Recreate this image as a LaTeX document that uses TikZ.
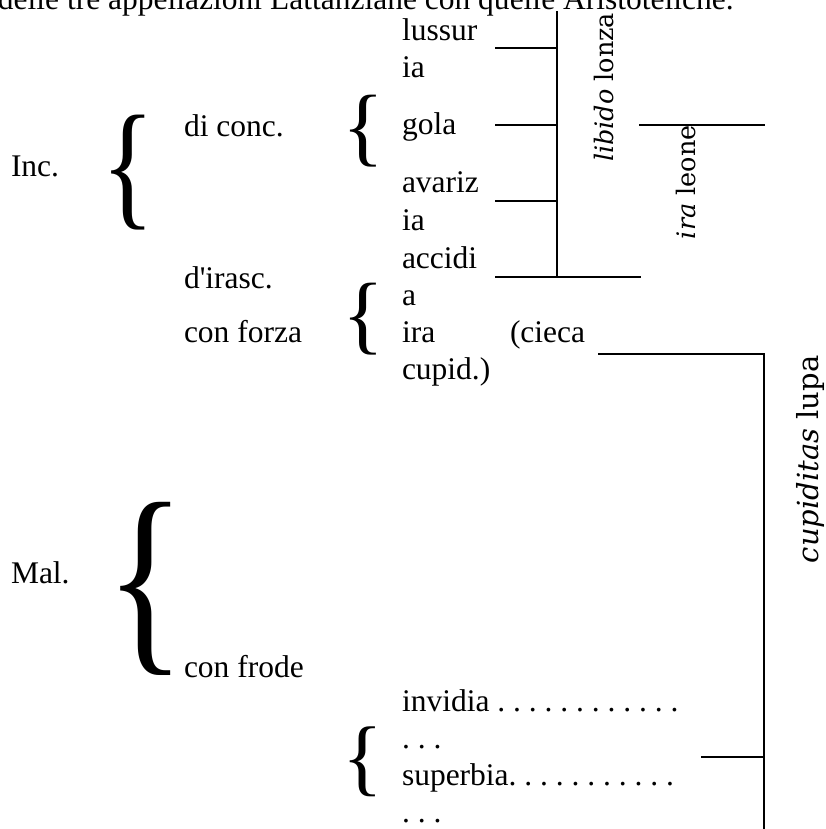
\documentclass[tikz,border=0pt]{standalone}
\usepackage{fontspec}
\setmainfont{Liberation Serif}
\newfontfamily\dvs{DejaVu Serif}
\frenchspacing
\begin{document}
\begin{tikzpicture}[x=1pt,y=-1pt,
  txt/.style={anchor=base west,inner sep=0pt,outer sep=0pt,font=\fontsize{31.5}{36}\selectfont},
  rotsmall/.style={anchor=base west,inner sep=0pt,outer sep=0pt,rotate=90,font=\fontsize{25.5}{30}\dvs},
  rotbig/.style={anchor=base west,inner sep=0pt,outer sep=0pt,rotate=90,font=\fontsize{29}{34}\dvs},
  rulel/.style={line width=2.2pt,line cap=rect},
  brc/.style={inner sep=0pt,outer sep=0pt,anchor=center}]
\path[use as bounding box] (0,0) rectangle (826,829);
\clip (0,0) rectangle (826,829);
% title (cut off at top)
\node[txt] (title) at (-2,10) {delle tre appellazioni Lattanziane con quelle Aristoteliche.};
% left column
\node[txt] (inc) at (11,177) {Inc.};
\node[txt] (mal) at (11,583) {Mal.};
\node[txt] (diconc) at (184,137) {di conc.};
\node[txt] (dirasc) at (184,288) {d\textquotesingle irasc.};
\node[txt] (conforza) at (184,342) {con forza};
\node[txt] (confrode) at (184,677) {con frode};
% braces
\node[brc] (bInc) at (128,172.5) {\resizebox*{!}{115pt}{\scalebox{0.8}[1]{\textbraceleft}}};
\node[brc] (bMal) at (146,588.5) {\resizebox*{!}{173pt}{\scalebox{0.8}[1]{\textbraceleft}}};
\node[brc] (bGola) at (363,131) {\resizebox*{!}{72pt}{\textbraceleft}};
\node[brc] (bForza) at (363,319) {\resizebox*{!}{72pt}{\textbraceleft}};
\node[brc] (bSup) at (363,762) {\resizebox*{!}{70pt}{\textbraceleft}};
% right column
\node[txt] (lus1) at (402,41) {lussur};
\node[txt] (lus2) at (402,78) {ia};
\node[txt] (gola) at (402,135) {gola};
\node[txt] (ava1) at (402,193) {avariz};
\node[txt] (ava2) at (402,230) {ia};
\node[txt] (acc1) at (402,268) {accidi};
\node[txt] (acc2) at (402,305) {a};
\node[txt] (ira) at (402,342) {ira};
\node[txt] (cieca) at (510,342) {(cieca};
\node[txt] (cupid) at (402,379) {cupid.)};
\node[txt] (invidia) at (402,711) {invidia . . . . . . . . . . . .};
\node[txt] (dots1) at (402,748) {. . .};
\node[txt] (superbia) at (402,785) {superbia. . . . . . . . . . .};
\node[txt] (dots2) at (402,822) {. . .};
% rotated labels
\node[rotsmall] (libido) at (613,162) {\itshape libido\upshape{} lonza};
\node[rotsmall] (iraleone) at (695,239) {\itshape ira\upshape{} leone};
\node[rotbig] (cupiditas) at (818,563) {\itshape cupiditas\upshape{} lupa};
% rules
\coordinate (vt) at (557,12);
\coordinate (vb) at (557,277);
\coordinate (t1a) at (496,48);  \coordinate (t1b) at (557,48);
\coordinate (t2a) at (496,125); \coordinate (t2b) at (557,125);
\coordinate (t3a) at (496,201); \coordinate (t3b) at (557,201);
\coordinate (t4a) at (496,277); \coordinate (t4b) at (640,277);
\coordinate (ila) at (640,125); \coordinate (ilb) at (764,125);
\coordinate (cla) at (598,354); \coordinate (clb) at (764,354);
\coordinate (clc) at (764,835);
\coordinate (sta) at (702,757); \coordinate (stb) at (764,757);
\draw[rulel] (vt) -- (vb);
\draw[rulel] (t1a) -- (t1b);
\draw[rulel] (t2a) -- (t2b);
\draw[rulel] (t3a) -- (t3b);
\draw[rulel] (t4a) -- (t4b);
\draw[rulel] (ila) -- (ilb);
\draw[line width=2.2pt] (cla) -- (clb) -- (clc);
\draw[rulel] (sta) -- (stb);
\end{tikzpicture}
\end{document}
